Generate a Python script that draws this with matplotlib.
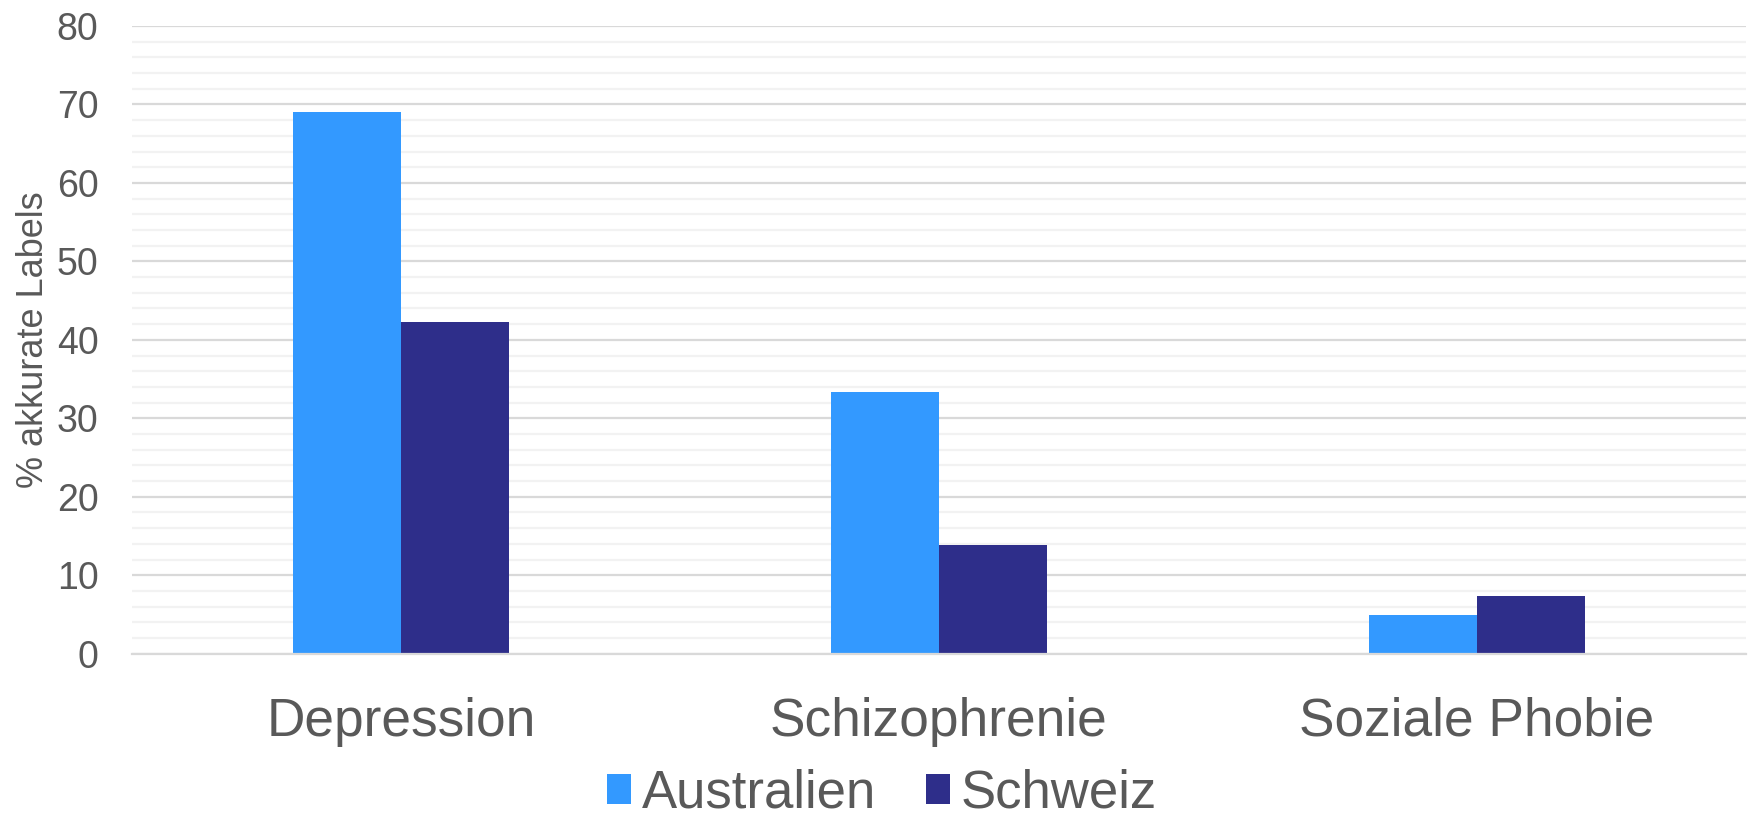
import matplotlib
matplotlib.use("Agg")
import matplotlib.pyplot as plt
import numpy as np
from matplotlib.ticker import MultipleLocator

plt.rcParams['font.family'] = ['Liberation Sans', 'DejaVu Sans']

categories = ["Depression", "Schizophrenie", "Soziale Phobie"]
series_names = ["Australien", "Schweiz"]
australien = [69.1, 33.3, 4.9]
schweiz = [42.3, 13.9, 7.3]
colors = ["#3399FF", "#2E2E8A"]
text_color = "#595959"

fig = plt.figure(figsize=(17.5, 8.21), dpi=100)
ax = fig.add_axes([0.0754, 0.2038, 0.9223, 0.7645])

x = np.arange(len(categories))
w = 0.2
ax.bar(x - w / 2, australien, width=w, color=colors[0], label=series_names[0], zorder=3)
ax.bar(x + w / 2, schweiz, width=w, color=colors[1], label=series_names[1], zorder=3)

ax.set_xlim(-0.5, len(categories) - 0.5)
ax.set_ylim(0, 80)
ax.yaxis.set_major_locator(MultipleLocator(10))
ax.yaxis.set_minor_locator(MultipleLocator(2))
ax.grid(axis='y', which='major', color='#D9D9D9', linewidth=1.6, zorder=0)
ax.grid(axis='y', which='minor', color='#F2F2F2', linewidth=1.6, zorder=0)
ax.set_axisbelow(True)

for s in ['top', 'right', 'left']:
    ax.spines[s].set_visible(False)
ax.spines['bottom'].set_color('#D9D9D9')
ax.spines['bottom'].set_linewidth(1.6)
ax.spines['bottom'].set_zorder(4)

ax.set_xticks(x)
ax.set_xticklabels(categories, fontsize=38.3, color=text_color)
ax.tick_params(axis='x', length=0, pad=31)
ax.tick_params(axis='y', which='both', length=0, labelsize=27, labelcolor=text_color, pad=24)

ax.set_ylabel("% akkurate Labels", fontsize=26, color=text_color)
ax.yaxis.set_label_coords(-0.050, 0.5)

leg = fig.legend(loc='center', bbox_to_anchor=(0.504, 0.033), ncol=2, frameon=False,
                 fontsize=38, handlelength=0.45, handleheight=0.5, handletextpad=0.2,
                 columnspacing=0.95, borderpad=0.0)
for t in leg.get_texts():
    t.set_color(text_color)

fig.savefig("out.png", dpi=100)
